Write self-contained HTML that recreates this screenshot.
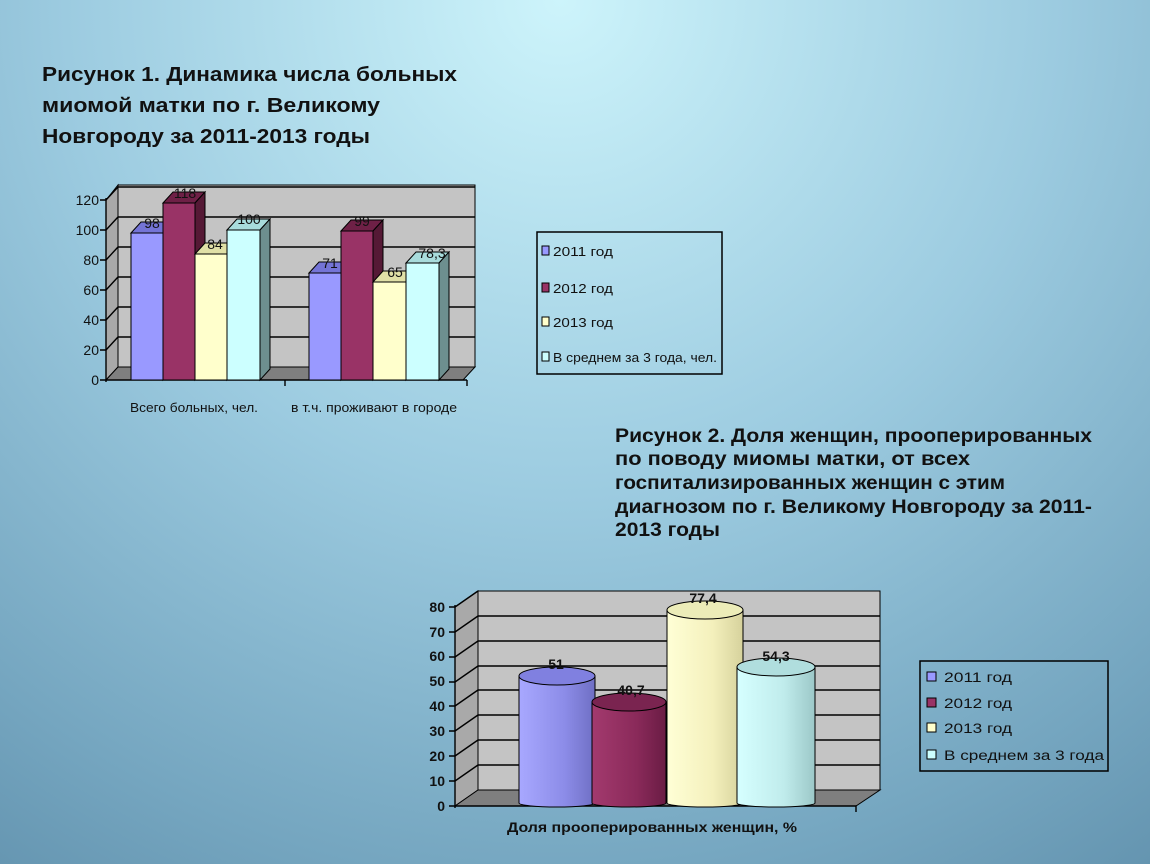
<!DOCTYPE html>
<html><head><meta charset="utf-8"><style>
html,body{margin:0;padding:0;width:1150px;height:864px;overflow:hidden}
svg{display:block}
text{font-family:"Liberation Sans","DejaVu Sans",sans-serif}
</style></head><body>
<svg width="1150" height="864" viewBox="0 0 1150 864" xmlns="http://www.w3.org/2000/svg">
<defs>
<radialGradient id="bg" cx="560" cy="0" r="1100" gradientUnits="userSpaceOnUse">
<stop offset="0" stop-color="#cdf4fb"/>
<stop offset="0.45" stop-color="#9ccbe0"/>
<stop offset="0.8" stop-color="#75a6c0"/>
<stop offset="1" stop-color="#5f8fab"/>
</radialGradient>
<linearGradient id="cp" x1="0" x2="1"><stop offset="0" stop-color="#a8a8ff"/><stop offset="0.6" stop-color="#8c8ce8"/><stop offset="1" stop-color="#6f6fc4"/></linearGradient>
<linearGradient id="cm" x1="0" x2="1"><stop offset="0" stop-color="#a33a6e"/><stop offset="0.6" stop-color="#8a2a5a"/><stop offset="1" stop-color="#6a1c44"/></linearGradient>
<linearGradient id="cy" x1="0" x2="1"><stop offset="0" stop-color="#ffffd6"/><stop offset="0.6" stop-color="#f4f0bc"/><stop offset="1" stop-color="#d6d29c"/></linearGradient>
<linearGradient id="cc" x1="0" x2="1"><stop offset="0" stop-color="#d6ffff"/><stop offset="0.6" stop-color="#c0ecec"/><stop offset="1" stop-color="#9cc8c8"/></linearGradient>
</defs>
<rect width="1150" height="864" fill="url(#bg)"/>

<g font-weight="bold" font-size="20" fill="#111">
<text x="42" y="81" textLength="415" lengthAdjust="spacingAndGlyphs">Рисунок 1. Динамика числа больных</text>
<text x="42" y="112" textLength="338" lengthAdjust="spacingAndGlyphs">миомой матки по г. Великому</text>
<text x="42" y="143" textLength="328" lengthAdjust="spacingAndGlyphs">Новгороду за 2011-2013 годы</text>
</g>
<g font-weight="bold" font-size="19" fill="#111">
<text x="615" y="442" textLength="477" lengthAdjust="spacingAndGlyphs">Рисунок 2. Доля женщин, прооперированных</text>
<text x="615" y="465" textLength="355" lengthAdjust="spacingAndGlyphs">по поводу миомы  матки, от всех</text>
<text x="615" y="489" textLength="390" lengthAdjust="spacingAndGlyphs">госпитализированных женщин с этим</text>
<text x="615" y="513" textLength="477" lengthAdjust="spacingAndGlyphs">диагнозом по г. Великому Новгороду за 2011-</text>
<text x="615" y="536" textLength="105" lengthAdjust="spacingAndGlyphs">2013 годы</text>
</g>

<!-- Chart 1 -->
<g stroke="#000" stroke-width="1">
<polygon points="118,185 475,185 475,367 118,367" fill="#c4c4c4"/>
<polygon points="106,200 118,185 118,367 106,380" fill="#a9a9a9"/>
<polygon points="106,380 118,367 475,367 463,380" fill="#7f7f7f"/>
</g>
<g stroke="#000" stroke-width="1.4" fill="none">
<path d="M106,350 L118,337 L475,337 M106,320 L118,307 L475,307 M106,290 L118,277 L475,277 M106,260 L118,247 L475,247 M106,230 L118,217 L475,217 M106,200 L118,187 L475,187"/>
<path d="M106,198 V382 M106,380 H467 M100,380 H106 M100,350 H106 M100,320 H106 M100,290 H106 M100,260 H106 M100,230 H106 M100,200 H106 M285,380 V386 M467,380 V386"/>
</g>
<g font-size="14" fill="#111" text-anchor="end">
<text x="99" y="385">0</text><text x="99" y="355">20</text><text x="99" y="325">40</text><text x="99" y="295">60</text><text x="99" y="265">80</text><text x="99" y="235">100</text><text x="99" y="205">120</text>
</g>
<g stroke="#000" stroke-width="1">
<polygon points="131,233 141,222 173,222 163,233" fill="#7474d6"/><polygon points="163,233 173,222 173,369 163,380" fill="#5c5cad"/><rect x="131" y="233" width="32" height="147" fill="#9999ff"/>
<polygon points="163,203 173,192 205,192 195,203" fill="#6e2046"/><polygon points="195,203 205,192 205,369 195,380" fill="#551935"/><rect x="163" y="203" width="32" height="177" fill="#993366"/>
<polygon points="195,254 205,243 237,243 227,254" fill="#e0e0a6"/><polygon points="227,254 237,243 237,369 227,380" fill="#c4c48f"/><rect x="195" y="254" width="32" height="126" fill="#ffffcc"/>
<polygon points="227,230 237,219 270,219 260,230" fill="#a8dcdc"/><polygon points="260,230 270,219 270,369 260,380" fill="#6d8f8f"/><rect x="227" y="230" width="33" height="150" fill="#ccffff"/>
<polygon points="309,273 319,262 351,262 341,273" fill="#7474d6"/><polygon points="341,273 351,262 351,369 341,380" fill="#5c5cad"/><rect x="309" y="273" width="32" height="107" fill="#9999ff"/>
<polygon points="341,231 351,220 383,220 373,231" fill="#6e2046"/><polygon points="373,231 383,220 383,369 373,380" fill="#551935"/><rect x="341" y="231" width="32" height="149" fill="#993366"/>
<polygon points="373,282 383,271 416,271 406,282" fill="#e0e0a6"/><polygon points="406,282 416,271 416,369 406,380" fill="#c4c48f"/><rect x="373" y="282" width="33" height="98" fill="#ffffcc"/>
<polygon points="406,263 416,252 449,252 439,263" fill="#a8dcdc"/><polygon points="439,263 449,252 449,369 439,380" fill="#6d8f8f"/><rect x="406" y="263" width="33" height="117" fill="#ccffff"/>
</g>
<g font-size="14" fill="#111" text-anchor="middle">
<text x="152" y="228">98</text><text x="185" y="198">118</text><text x="215" y="249">84</text><text x="249" y="224">100</text>
<text x="330" y="268">71</text><text x="362" y="226">99</text><text x="395" y="277">65</text><text x="432" y="258">78,3</text>
</g>
<g font-size="13" fill="#111">
<text x="130" y="412" textLength="128" lengthAdjust="spacingAndGlyphs">Всего больных, чел.</text>
<text x="291" y="412" textLength="166" lengthAdjust="spacingAndGlyphs">в т.ч. проживают в городе</text>
</g>
<rect x="537" y="232" width="185" height="142" fill="none" stroke="#000" stroke-width="1.5"/>
<g stroke="#000" stroke-width="1">
<rect x="542" y="246" width="7" height="9" fill="#9999ff"/>
<rect x="542" y="283" width="7" height="9" fill="#993366"/>
<rect x="542" y="317" width="7" height="9" fill="#ffffcc"/>
<rect x="542" y="352" width="7" height="9" fill="#ccffff"/>
</g>
<g font-size="13" fill="#111">
<text x="553" y="256" textLength="60" lengthAdjust="spacingAndGlyphs">2011 год</text><text x="553" y="293" textLength="60" lengthAdjust="spacingAndGlyphs">2012 год</text><text x="553" y="327" textLength="60" lengthAdjust="spacingAndGlyphs">2013 год</text><text x="553" y="362" textLength="164" lengthAdjust="spacingAndGlyphs">В среднем за 3 года, чел.</text>
</g>

<!-- Chart 2 -->
<g stroke="#000" stroke-width="1">
<polygon points="478,591 880,591 880,790 478,790" fill="#c4c4c4"/>
<polygon points="455,607 478,591 478,790 455,806" fill="#a9a9a9"/>
<polygon points="455,806 478,790 880,790 856,806" fill="#7f7f7f"/>
</g>
<g stroke="#000" stroke-width="1.4" fill="none">
<path d="M455,781 L478,765 L880,765 M455,756 L478,740 L880,740 M455,731 L478,715 L880,715 M455,706 L478,690 L880,690 M455,682 L478,666 L880,666 M455,657 L478,641 L880,641 M455,632 L478,616 L880,616 M455,607 L478,591"/>
<path d="M455,605 V808 M455,806 H856 L856,812 M449,806 H455 M449,781 H455 M449,756 H455 M449,731 H455 M449,706 H455 M449,682 H455 M449,657 H455 M449,632 H455 M449,607 H455"/>
</g>
<g font-size="14" font-weight="bold" fill="#111" text-anchor="end">
<text x="445" y="811">0</text><text x="445" y="786">10</text><text x="445" y="761">20</text><text x="445" y="736">30</text><text x="445" y="711">40</text><text x="445" y="686">50</text><text x="445" y="661">60</text><text x="445" y="637">70</text><text x="445" y="612">80</text>
</g>
<g stroke="#000" stroke-width="1">
<path d="M519,676 V803 A38,4 0 0 0 595,803 V676 Z" fill="url(#cp)"/><ellipse cx="557" cy="676" rx="38" ry="9" fill="#8080e0"/>
<path d="M592,702 V803 A37,4 0 0 0 666,803 V702 Z" fill="url(#cm)"/><ellipse cx="629" cy="702" rx="37" ry="9" fill="#7a2450"/>
<path d="M667,610 V803 A38,4 0 0 0 743,803 V610 Z" fill="url(#cy)"/><ellipse cx="705" cy="610" rx="38" ry="9" fill="#ececb8"/>
<path d="M737,667 V803 A39,4 0 0 0 815,803 V667 Z" fill="url(#cc)"/><ellipse cx="776" cy="667" rx="39" ry="9" fill="#b0dede"/>
</g>
<g font-size="14" font-weight="bold" fill="#111" text-anchor="middle">
<text x="556" y="669">51</text><text x="631" y="695">40,7</text><text x="703" y="603">77,4</text><text x="776" y="661">54,3</text>
</g>
<text x="507" y="832" font-size="14" font-weight="bold" fill="#111" textLength="290" lengthAdjust="spacingAndGlyphs">Доля прооперированных женщин, %</text>
<rect x="920" y="661" width="188" height="110" fill="none" stroke="#000" stroke-width="1.5"/>
<g stroke="#000" stroke-width="1">
<rect x="927" y="672" width="9" height="9" fill="#9999ff"/>
<rect x="927" y="698" width="9" height="9" fill="#993366"/>
<rect x="927" y="723" width="9" height="9" fill="#ffffcc"/>
<rect x="927" y="750" width="9" height="9" fill="#ccffff"/>
</g>
<g font-size="13.5" fill="#111">
<text x="944" y="682" textLength="68" lengthAdjust="spacingAndGlyphs">2011 год</text><text x="944" y="708" textLength="68" lengthAdjust="spacingAndGlyphs">2012 год</text><text x="944" y="733" textLength="68" lengthAdjust="spacingAndGlyphs">2013 год</text><text x="944" y="760" textLength="160" lengthAdjust="spacingAndGlyphs">В среднем за 3 года</text>
</g>
</svg>
</body></html>
